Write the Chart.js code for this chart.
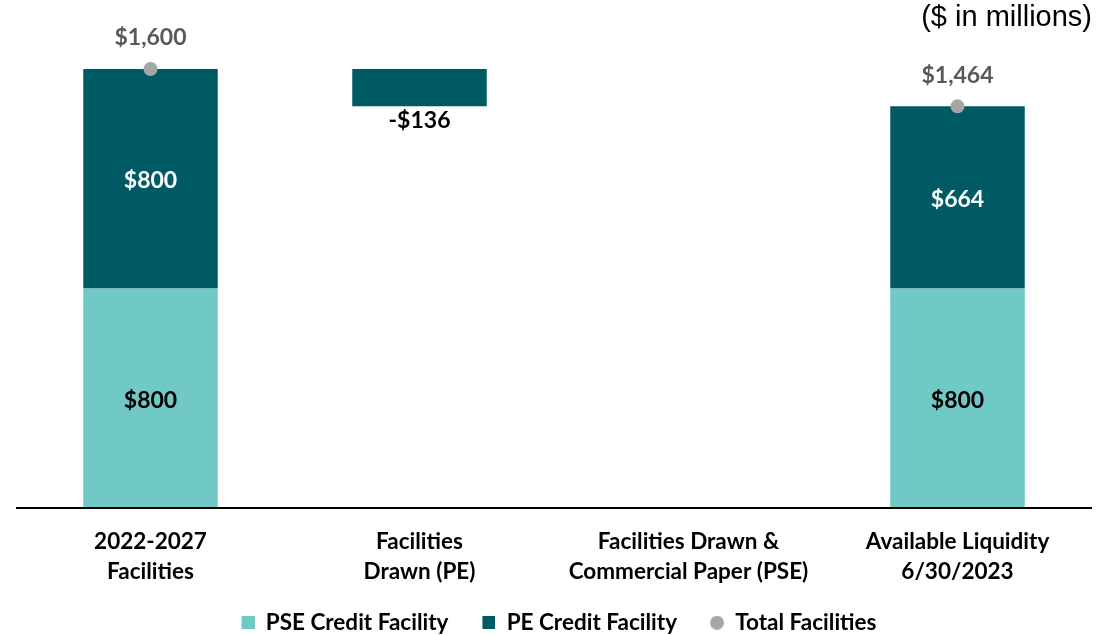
<!DOCTYPE html>
<html>
<head>
<meta charset="utf-8">
<script src="https://cdn.jsdelivr.net/npm/chart.js@4.4.1/dist/chart.umd.min.js"></script>
<style>
  html, body { margin: 0; padding: 0; background: #fff; }
  #wrap { width: 1119px; height: 635px; position: relative; }
</style>
</head>
<body>
<div id="wrap"><canvas id="c"></canvas></div>
<script>
// ---- data ----
const categories = [
  ['2022-2027', 'Facilities'],
  ['Facilities', 'Drawn (PE)'],
  ['Facilities Drawn &', 'Commercial Paper (PSE)'],
  ['Available Liquidity', '6/30/2023']
];
const pseValues = [800, 0, 0, 800];           // PSE Credit Facility
const peValues = [800, -136, 0, 664];         // PE Credit Facility (delta for middle columns)
const totalValues = [1600, null, null, 1464]; // Total Facilities
const isTotalColumn = [true, false, false, true];

// ---- build floating bars for the waterfall ----
const pseBars = [], peBars = [];
let running = 0;
for (let i = 0; i < categories.length; i++) {
  if (isTotalColumn[i]) {
    pseBars.push(pseValues[i] ? [0, pseValues[i]] : null);
    peBars.push(peValues[i] ? [pseValues[i], pseValues[i] + peValues[i]] : null);
    running = pseValues[i] + peValues[i];
  } else {
    const next = running + peValues[i] + pseValues[i];
    pseBars.push(null);
    peBars.push(peValues[i] ? [Math.min(running, next), Math.max(running, next)] : null);
    running = next;
  }
}

const C_PSE = '#70C9C4', C_PE = '#005A63', C_TOT = '#A6A6A6';
const FONT = 'Lato, "Open Sans", "DejaVu Sans", sans-serif';

function fmt(v) {
  const s = '$' + Math.abs(v).toLocaleString('en-US');
  return v < 0 ? '-' + s : s;
}

// legend markers: drawn at the right of a 23px-wide cell (left part is spacing)
function makeMarker(color, shape, h) {
  const w = 23;
  const cv = document.createElement('canvas');
  cv.width = w; cv.height = h;
  const g = cv.getContext('2d');
  g.fillStyle = color;
  if (shape === 'circle') { g.beginPath(); g.arc(w - h / 2, h / 2, h / 2, 0, Math.PI * 2); g.fill(); }
  else g.fillRect(w - h, 0, h, h);
  return cv;
}
const legendMarkers = [makeMarker(C_PSE, 'rect', 13), makeMarker(C_PE, 'rect', 13), makeMarker(C_TOT, 'circle', 14)];

const labelPlugin = {
  id: 'valueLabels',
  afterDatasetsDraw(chart) {
    const ctx = chart.ctx;
    ctx.save();
    ctx.font = 'bold 23px ' + FONT;
    ctx.textAlign = 'center';
    ctx.textBaseline = 'middle';
    chart.getDatasetMeta(0).data.forEach((el, i) => {
      if (!pseBars[i]) return;
      ctx.fillStyle = '#000';
      ctx.fillText(fmt(pseValues[i]), el.x, (el.y + el.base) / 2 + 2);
    });
    chart.getDatasetMeta(1).data.forEach((el, i) => {
      if (!peBars[i]) return;
      if (isTotalColumn[i]) {
        ctx.fillStyle = '#fff';
        ctx.fillText(fmt(peValues[i]), el.x, (el.y + el.base) / 2 + 2);
      } else {
        const bottom = Math.max(el.y, el.base);
        ctx.fillStyle = '#000';
        ctx.fillText(fmt(peValues[i]), el.x, bottom + 14);
      }
    });
    chart.getDatasetMeta(2).data.forEach((el, i) => {
      if (totalValues[i] == null) return;
      ctx.fillStyle = '#595959';
      ctx.fillText(fmt(totalValues[i]), el.x, el.y - 31);
    });
    ctx.restore();
  }
};

const axisLinePlugin = {
  id: 'axisLine',
  afterDatasetsDraw(chart) {
    const ctx = chart.ctx;
    const y = chart.scales.y.getPixelForValue(0);
    ctx.save();
    ctx.strokeStyle = '#000';
    ctx.lineWidth = 2;
    ctx.beginPath();
    ctx.moveTo(chart.chartArea.left, y);
    ctx.lineTo(chart.chartArea.right, y);
    ctx.stroke();
    ctx.restore();
  }
};

new Chart(document.getElementById('c'), {
  type: 'bar',
  data: {
    labels: categories,
    datasets: [
      { label: 'PSE Credit Facility', data: pseBars, backgroundColor: C_PSE, grouped: false,
        barPercentage: 0.5, categoryPercentage: 1, order: 2 },
      { label: 'PE Credit Facility', data: peBars, backgroundColor: C_PE, grouped: false,
        barPercentage: 0.5, categoryPercentage: 1, order: 2 },
      { type: 'line', label: 'Total Facilities', data: totalValues, showLine: false,
        pointRadius: 7, pointHoverRadius: 7, pointBackgroundColor: C_TOT, pointBorderColor: C_TOT,
        pointBorderWidth: 0, backgroundColor: C_TOT, borderColor: C_TOT, pointStyle: 'circle', order: 1 }
    ]
  },
  options: {
    responsive: true,
    maintainAspectRatio: false,
    animation: false,
    layout: { padding: { left: 16, right: 27, top: 0, bottom: -9 } },
    scales: {
      x: {
        grid: { display: false, drawTicks: false },
        border: { display: false },
        ticks: {
          color: '#000', padding: 19, maxRotation: 0, autoSkip: false,
          font: { family: FONT, size: 22.5, weight: 'bold', lineHeight: 1.3333 }
        },
        afterFit(scale) { scale.height -= 18.5; }
      },
      y: { display: false, min: 0, max: 1700 }
    },
    plugins: {
      title: {
        display: true, text: '($ in millions)', align: 'end', color: '#000',
        font: { family: '"Liberation Sans", Arial, sans-serif', size: 29, weight: 'normal', lineHeight: 1.2 },
        padding: { top: 1, bottom: 5.8 }
      },
      legend: {
        position: 'bottom',
        labels: {
          usePointStyle: true, pointStyleWidth: 23, boxHeight: 13, boxWidth: 23, padding: 24, color: '#000',
          font: { family: FONT, size: 22.5, weight: 'bold' },
          sort: (a, b) => a.datasetIndex - b.datasetIndex,
          generateLabels(chart) {
            const items = Chart.defaults.plugins.legend.labels.generateLabels(chart);
            items.forEach(it => { it.pointStyle = legendMarkers[it.datasetIndex]; });
            return items;
          }
        }
      },
      tooltip: { enabled: false }
    }
  },
  plugins: [labelPlugin, axisLinePlugin]
});
</script>
</body>
</html>
